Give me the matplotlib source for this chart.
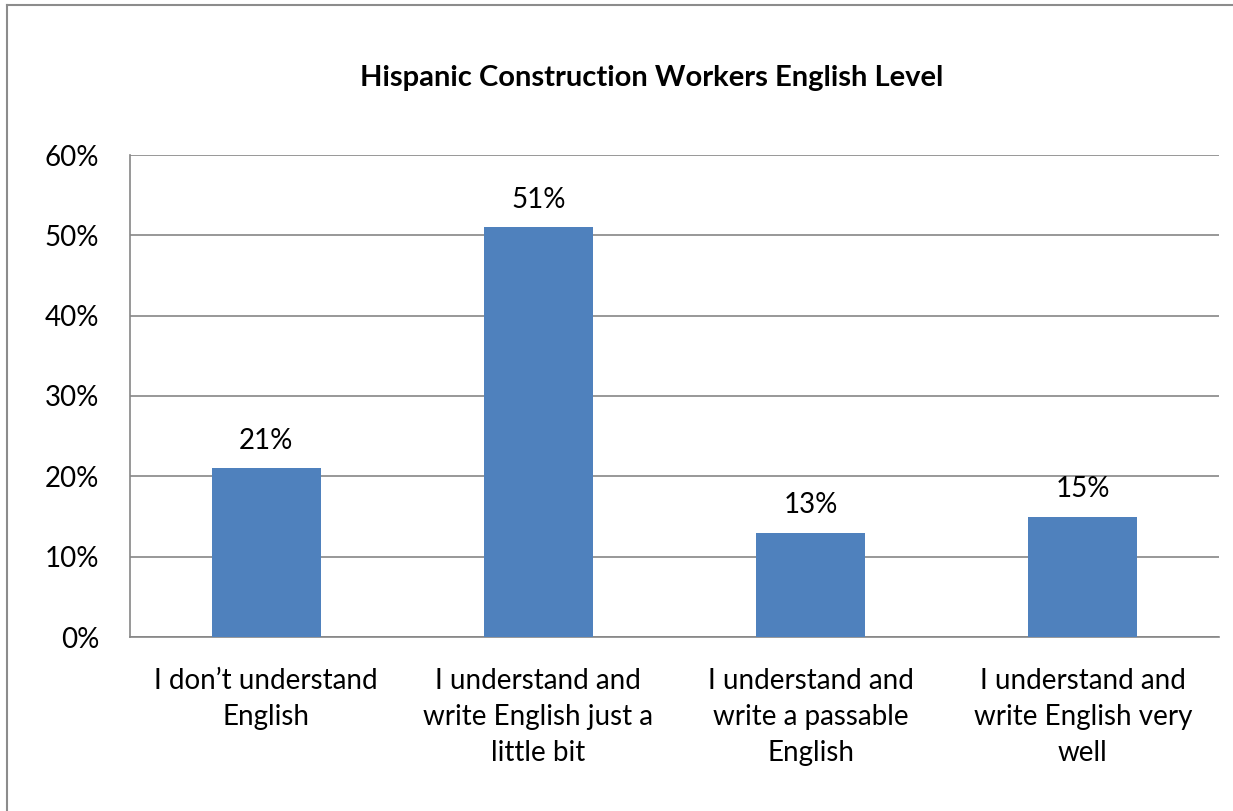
import matplotlib.pyplot as plt
from matplotlib.lines import Line2D
from matplotlib.ticker import PercentFormatter

categories = ["I don\u2019t understand\nEnglish",
              "I understand and\nwrite English just a\nlittle bit",
              "I understand and\nwrite a passable\nEnglish",
              "I understand and\nwrite English very\nwell"]
shares = [0.21, 0.51, 0.13, 0.15]
yticks = [0.0, 0.1, 0.2, 0.3, 0.4, 0.5, 0.6]

plt.rcParams['font.family'] = ['Lato', 'DejaVu Sans']

W, H = 1233, 811
fig = plt.figure(figsize=(W / 100, H / 100), dpi=100)

# outer chart frame: only the left and top edges fall inside the image
fx, fy = 6.5 / W, 1 - 4.5 / H
fig.add_artist(Line2D([fx, fx], [0, fy], transform=fig.transFigure, color='#8c8c8c', lw=1.5))
fig.add_artist(Line2D([fx, 1], [fy, fy], transform=fig.transFigure, color='#8c8c8c', lw=1.5))

ax = fig.add_axes([130 / W, (H - 637) / H, (1219 - 130) / W, (637 - 155) / H])

x = range(len(categories))
bars = ax.bar(x, shares, width=0.4, color='#4F81BD', zorder=3)
for rect, v in zip(bars, shares):
    ax.text(rect.get_x() + rect.get_width() / 2, v + 0.018, '{:.0%}'.format(v),
            ha='center', va='bottom', fontsize=20)

ax.set_xlim(-0.5, len(categories) - 0.5)
ax.set_ylim(0, 0.6)
ax.set_yticks(yticks)
ax.yaxis.set_major_formatter(PercentFormatter(1.0, decimals=0))
ax.set_xticks(list(x))
ax.set_xticklabels(categories, fontsize=20, linespacing=1.48, va='top')
ax.tick_params(axis='y', labelsize=20, length=0, pad=22)
ax.tick_params(axis='x', length=0, pad=22)
ax.grid(axis='y', color='#868686', linewidth=1.2, zorder=0)

for side in ['top', 'right']:
    ax.spines[side].set_visible(False)
for side in ['left', 'bottom']:
    ax.spines[side].set_color('#868686')
    ax.spines[side].set_linewidth(1.2)

fig.text(652 / W, 1 - 78 / H, 'Hispanic Construction Workers English Level',
         ha='center', va='center', fontsize=21, fontweight='bold')

fig.savefig('out.png', dpi=100)
